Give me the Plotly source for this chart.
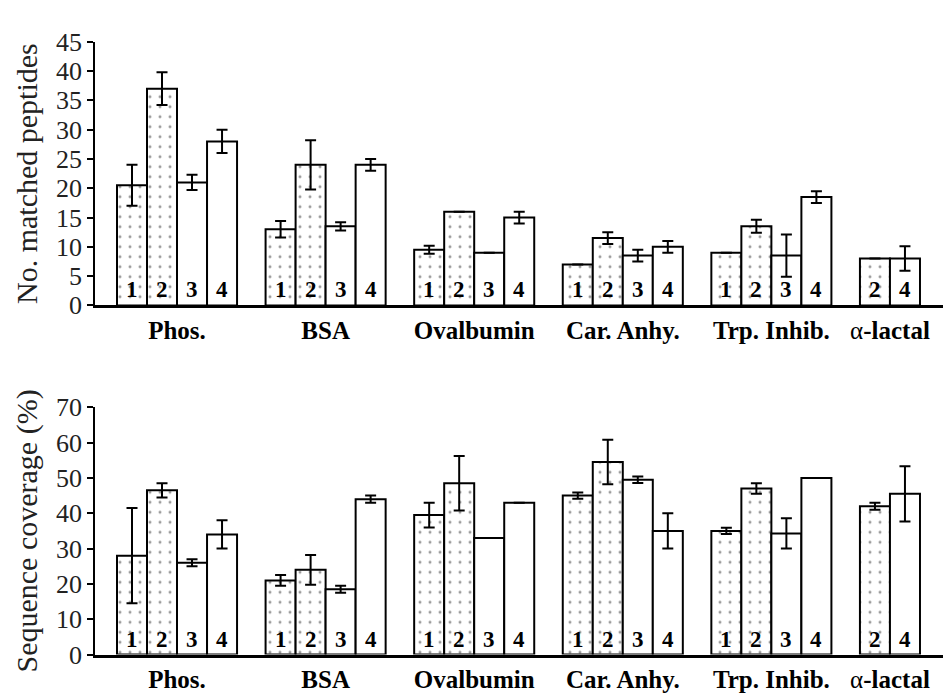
import plotly.graph_objects as go

# ---------------- data ----------------
categories = ["Phos.", "BSA", "Ovalbumin", "Car. Anhy.", "Trp. Inhib.", "α-lactal"]
cat_labels = ["<b>Phos.</b>", "<b>BSA</b>", "<b>Ovalbumin</b>", "<b>Car. Anhy.</b>",
              "<b>Trp. Inhib.</b>", "α<b>-lactal</b>"]
series_names = ["1", "2", "3", "4"]

# No. matched peptides
pep_1 = [20.5, 13.0, 9.5, 7.0, 9.0, None]
pep_2 = [37.0, 24.0, 16.0, 11.5, 13.5, 8.0]
pep_3 = [21.0, 13.5, 9.0, 8.5, 8.5, None]
pep_4 = [28.0, 24.0, 15.0, 10.0, 18.5, 8.0]
pep_err_1 = [3.5, 1.4, 0.7, None, None, None]
pep_err_2 = [2.8, 4.2, None, 1.0, 1.1, None]
pep_err_3 = [1.3, 0.7, None, 1.0, 3.6, None]
pep_err_4 = [2.0, 1.0, 1.0, 1.0, 1.0, 2.1]

# Sequence coverage (%)
cov_1 = [28.0, 21.0, 39.5, 45.0, 35.0, None]
cov_2 = [46.5, 24.0, 48.5, 54.5, 47.0, 42.0]
cov_3 = [26.0, 18.5, 33.0, 49.5, 34.3, None]
cov_4 = [34.0, 44.0, 43.0, 35.0, 50.0, 45.5]
cov_err_1 = [13.5, 1.5, 3.5, 0.9, 0.9, None]
cov_err_2 = [2.0, 4.2, 7.7, 6.3, 1.5, 1.0]
cov_err_3 = [1.0, 1.0, None, 0.9, 4.3, None]
cov_err_4 = [4.0, 1.0, None, 5.0, None, 7.8]

# ---------------- style ----------------
BAR_W = 0.202
SERIF = "Liberation Serif"
dotted = [True, True, False, False]

fig = go.Figure()

panels = [
    (dict(v=[pep_1, pep_2, pep_3, pep_4], e=[pep_err_1, pep_err_2, pep_err_3, pep_err_4]), "x", "y"),
    (dict(v=[cov_1, cov_2, cov_3, cov_4], e=[cov_err_1, cov_err_2, cov_err_3, cov_err_4]), "x2", "y2"),
]

annotations = []
tick_positions = []
for p_idx, (pdata, xa, ya) in enumerate(panels):
    vals, errs = pdata["v"], pdata["e"]
    # slot assignment: present bars packed from the left of each group
    xs = [[None] * len(categories) for _ in series_names]
    centers = []
    for ci in range(len(categories)):
        present = [si for si in range(len(series_names)) if vals[si][ci] is not None]
        pos = []
        for k, si in enumerate(present):
            xs[si][ci] = ci + (k - 1.5) * BAR_W
            pos.append(xs[si][ci])
        centers.append(sum(pos) / len(pos))
    tick_positions.append(centers)
    for si, name in enumerate(series_names):
        xv = [xs[si][ci] for ci in range(len(categories)) if vals[si][ci] is not None]
        yv = [vals[si][ci] for ci in range(len(categories)) if vals[si][ci] is not None]
        ev = [errs[si][ci] for ci in range(len(categories)) if vals[si][ci] is not None]
        ev = [float("nan") if e is None else e for e in ev]
        marker = dict(color="white", line=dict(color="black", width=2))
        if dotted[si]:
            marker["pattern"] = dict(shape=".", fgcolor="#3a3a3a", bgcolor="white",
                                     size=10, solidity=0.07)
        fig.add_trace(go.Bar(
            x=xv, y=yv, width=BAR_W, marker=marker, xaxis=xa, yaxis=ya,
            error_y=dict(type="data", array=ev, visible=True, color="black",
                         thickness=2, width=5.5),
            showlegend=False, name=name,
        ))
        for x in xv:
            annotations.append(dict(
                x=x, y=0, xref=xa, yref=ya + " domain", yanchor="bottom",
                yshift=1, showarrow=False, text="<b>%s</b>" % name,
                font=dict(family=SERIF, size=23, color="black")))

x_left = 95 / 943
common_x = dict(range=[-0.552, 5.155], showline=True, linecolor="black", linewidth=2.5,
                ticks="", showgrid=False, zeroline=False,
                tickfont=dict(family=SERIF, size=25, color="black"),
                ticklabelstandoff=1, domain=[x_left, 1.0])
common_y = dict(showline=True, linecolor="black", linewidth=1.5, ticks="outside",
                ticklen=6, tickwidth=1.5, tickcolor="black", showgrid=False,
                zeroline=False, tickfont=dict(family=SERIF, size=26, color="#222"))

fig.update_layout(
    width=943, height=699, margin=dict(l=0, r=0, t=0, b=0),
    plot_bgcolor="white", paper_bgcolor="white", barmode="overlay",
    xaxis=dict(common_x, anchor="y", tickvals=tick_positions[0], ticktext=cat_labels),
    xaxis2=dict(common_x, anchor="y2", tickvals=tick_positions[1], ticktext=cat_labels),
    yaxis=dict(common_y, anchor="x", domain=[0.5651, 0.9585], range=[0, 45], dtick=5,
               title=dict(text="No. matched peptides", standoff=10,
                          font=dict(family=SERIF, size=30, color="#222"))),
    yaxis2=dict(common_y, anchor="x2", domain=[0.0439, 0.4130], range=[0, 70], dtick=10,
                title=dict(text="Sequence coverage (%)", standoff=10,
                           font=dict(family=SERIF, size=30, color="#222"))),
    annotations=annotations,
)

fig.write_html("out.html")
